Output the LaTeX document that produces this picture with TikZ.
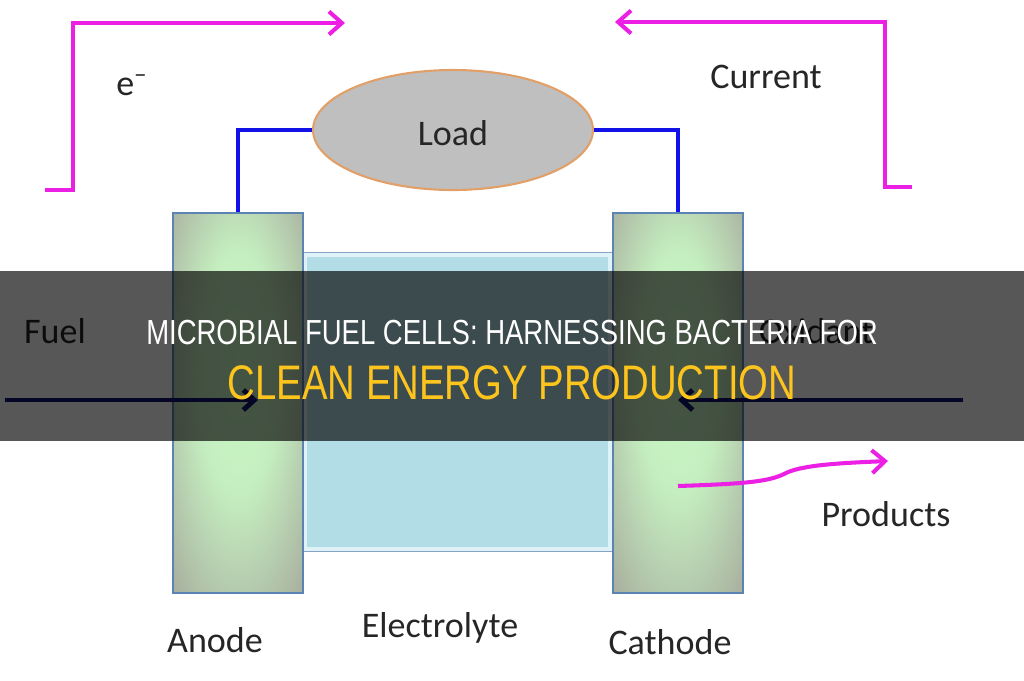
\documentclass[tikz,border=0pt]{standalone}
\usepackage{fontspec}
\setmainfont{Carlito}
\newfontfamily\bannerfont{Liberation Sans}
\usetikzlibrary{arrows.meta,shapes.geometric}

\definecolor{wirepink}{RGB}{236,32,228}
\definecolor{wireblue}{RGB}{18,18,232}
\definecolor{feednavy}{RGB}{16,16,112}
\definecolor{loadgray}{RGB}{191,191,191}
\definecolor{loadrim}{RGB}{226,160,105}
\definecolor{electrodegreen}{RGB}{202,250,198}
\definecolor{electrodegray}{RGB}{166,170,156}
\definecolor{electrodeedge}{RGB}{92,132,178}
\definecolor{electrolyteblue}{RGB}{178,220,230}
\definecolor{electrolyteglow}{RGB}{222,242,248}
\definecolor{labelgray}{RGB}{38,38,38}
\definecolor{bannergold}{RGB}{252,196,28}

\pgfdeclareradialshading{electrodeglow}{\pgfpoint{0bp}{6bp}}{%
  color(0bp)=(electrodegreen); color(16bp)=(electrodegreen!85!electrodegray);
  color(38bp)=(electrodegray); color(50bp)=(electrodegray!92!black)}

\tikzset{
  labeltext/.style={text=labelgray, inner sep=0pt, font=\fontsize{20.5}{24}\selectfont},
  pinkwire/.style={draw=wirepink, line width=2.3pt, -{Straight Barb[length=2.6mm,width=4.6mm]}},
  bluewire/.style={draw=wireblue, line width=2pt},
  feedarrow/.style={draw=feednavy, line width=2.8pt, -{Straight Barb[length=2.2mm,width=4mm]}},
  electrode/.style={rectangle, draw=electrodeedge, line width=1pt, shading=electrodeglow,
                    minimum width=2.6cm, minimum height=7.6cm, inner sep=0pt},
  electrolytebox/.style={rectangle, fill=electrolyteblue, draw=electrolyteglow, line width=2.5pt,
                    minimum width=6.1cm, minimum height=5.9cm, inner sep=0pt},
  loadbox/.style={ellipse, fill=loadgray, draw=loadrim, line width=1.2pt,
                    minimum width=5.6cm, minimum height=2.4cm, inner sep=0pt}
}

\begin{document}
\begin{tikzpicture}[x=0.02cm, y=-0.02cm]
\useasboundingbox[fill=white] (0,0) rectangle (1024,680);

\node (electrolyte) [electrolytebox] at (457.5,402) {};
\draw[electrodeedge!75, line width=0.7pt] (electrolyte.north west) rectangle (electrolyte.south east);

\node (anode) [electrode] at (238,403) {};
\node (cathode) [electrode] at (678,403) {};
\node (load) [loadbox] at (453,130) {};

\begin{scope}[every node/.style={labeltext}]
    \node (loadtxt) at (453,133) {Load};
    \node (etxt) at (132,85) {e\textsuperscript{–}};
    \node (currenttxt) at (766,77) {Current};
    \node (fueltxt) at (55,331) {Fuel};
    \node (oxidanttxt) at (816,331) {Oxidant};
    \node (productstxt) at (886,514) {Products};
    \node (anodetxt) at (215,640) {Anode};
    \node (electrolytetxt) at (440,628) {Electrolyte};
    \node (cathodetxt) at (670,642) {Cathode};
\end{scope}

\coordinate (etail) at (45,190);
\coordinate (ehead) at (345,23);
\coordinate (ctail) at (912,187);
\coordinate (chead) at (615,22);
\coordinate (fuelin) at (5,400);
\coordinate (oxin) at (963,400);
\coordinate (prodtail) at (678,486);
\coordinate (prodhead) at (888,461);

\draw[bluewire] (anode.north) |- (load.west);
\draw[bluewire] (load.east) -| (cathode.north);

\draw[pinkwire] (etail) -- ++(28,0) |- (ehead);
\draw[pinkwire] (ctail) -- ++(-27,0) |- (chead);
\draw[pinkwire] (prodtail) .. controls (740,484) and (768,482) .. (784,474)
                .. controls (800,465) and (840,463) .. (prodhead);

\draw[feedarrow] (fuelin) -- ([xshift=0.4cm]fuelin -| anode.center);
\draw[feedarrow] (oxin) -- (oxin -| cathode.center);

\fill[black, opacity=0.66] (0,271) rectangle (1024,441);
\begin{scope}[every node/.style={inner sep=0pt, xscale=0.79, transform shape}]
    \node (titleone) [text=white, font=\bannerfont\fontsize{19.8}{24}\selectfont] at (512,333)
        {MICROBIAL FUEL CELLS: HARNESSING BACTERIA FOR};
    \node (titletwo) [text=bannergold, font=\bannerfont\fontsize{27.6}{32}\selectfont] at (512,383)
        {CLEAN ENERGY PRODUCTION};
\end{scope}
\end{tikzpicture}
\end{document}
